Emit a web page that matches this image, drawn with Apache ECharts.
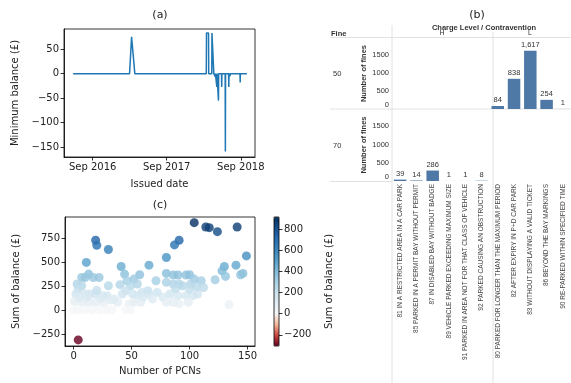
<!DOCTYPE html>
<html>
<head>
<meta charset="utf-8">
<script src="https://cdn.jsdelivr.net/npm/echarts@6/dist/echarts.min.js"></script>
<style>
  html, body { margin: 0; padding: 0; background: #fff; }
  #main { width: 571px; height: 383px; }
</style>
</head>
<body>
<div id="main"></div>
<script>
// (a) minimum balance over time
const balanceDates = [
    '2016-05-28', '2017-03-02', '2017-03-12', '2017-03-28',
    '2018-03-15', '2018-03-16', '2018-03-26', '2018-03-27',
    '2018-04-11', '2018-04-12', '2018-04-20', '2018-04-21',
    '2018-04-27', '2018-04-28', '2018-04-29',
    '2018-05-05', '2018-05-06', '2018-05-07',
    '2018-05-13', '2018-05-14', '2018-05-15',
    '2018-05-29', '2018-05-30', '2018-05-31',
    '2018-06-16', '2018-06-17', '2018-06-18',
    '2018-07-03', '2018-07-04', '2018-07-05',
    '2018-07-09', '2018-07-10', '2018-07-11',
    '2018-08-28', '2018-08-29', '2018-08-30',
    '2018-10-01'
];
const minBalance = [
    0, 0, 75, 0,
    0, 83, 83, 0,
    0, 83, 83, 0,
    0, -6, 0,
    0, -27, 0,
    0, -55, 0,
    0, -27, 0,
    0, -159, 0,
    0, -27, 0,
    0, -5, 0,
    0, -18, 0,
    0
];
const dateTicks = ['2016-09-01', '2017-09-01', '2018-09-01'];
const balanceTicks = [-150, -100, -50, 0, 50];

// (b) number of fines by contravention
const contraventions = [
    '81 IN A RESTRICTED AREA IN A CAR PARK',
    '85 PARKED IN A PERMIT BAY WITHOUT PERMIT',
    '87 IN DISABLED BAY WITHOUT BADGE',
    '89 VEHICLE PARKED EXCEEDING MAXIMUM SIZE',
    '91 PARKED IN AREA NOT FOR THAT CLASS OF VEHICLE',
    '92 PARKED CAUSING AN OBSTRUCTION',
    '80 PARKED FOR LONGER THAN THE MAXIMUM PERIOD',
    '82 AFTER EXPIRY IN P+D CAR PARK',
    '83 WITHOUT DISPLAYING A VALID TICKET',
    '86 BEYOND THE BAY MARKINGS',
    '90 RE-PARKED WITHIN SPECIFIED TIME'
];
const fines50 = [null, null, null, null, null, null, 84, 838, 1617, 254, 1];
const fines70 = [39, 14, 286, 1, 1, 8, null, null, null, null, null];

// (c) sum of balance vs number of PCNs
const pcnCounts = [
    4, 104, 114, 117, 124, 141, 19, 20, 30, 91, 87, 80, 149, 11, 41, 65, 140, 130, 128, 131,
    146, 144, 44, 57, 13, 10, 22, 17, 7, 80, 86, 90, 97, 100, 104, 110, 122, 30, 40, 46,
    52, 49, 55, 71, 80, 86, 91, 94, 101, 3, 7, 4, 2, 64, 59, 65, 72, 45, 42, 51,
    55, 29, 25, 19, 14, 10, 83, 90, 97, 103, 107, 68, 77, 52, 58, 48, 38, 35, 26, 19,
    13, 7, 1, 80, 86, 91, 99, 134, 0, 4, 10, 16, 22, 28, 33, 45, 49, 5, 24, 32,
    12, 20, 60, 88, 100, 106, 112
];
const balanceSums = [
    -305, 913, 868, 861, 820, 868, 730, 679, 634, 730, 682, 551, 568, 500, 458, 472, 472, 458, 413, 355,
    386, 372, 379, 372, 379, 344, 344, 344, 344, 386, 369, 369, 369, 372, 327, 310, 320, 258, 269, 310,
    327, 258, 276, 310, 293, 276, 276, 258, 276, 276, 258, 224, 172, 207, 189, 172, 189, 207, 172, 172,
    155, 155, 155, 172, 172, 172, 172, 155, 155, 155, 172, 121, 138, 86, 86, 69, 86, 121, 76, 86,
    86, 86, 96, 86, 86, 69, 86, 62, 7, 7, 7, 7, 7, 7, 7, 7, 7, 140, 130, 110,
    140, 210, 140, 230, 225, 250, 240
];
const pcnTicks = [0, 50, 100, 150];
const sumTicks = [-250, 0, 250, 500, 750];
const colorbarTicks = [-200, 0, 200, 400, 600, 800];

const chart = echarts.init(document.getElementById('main'), null, { renderer: 'canvas' });

const mplFont = 'DejaVu Sans';
const tabFont = 'Liberation Sans';
const months = ['Jan', 'Feb', 'Mar', 'Apr', 'May', 'Jun', 'Jul', 'Aug', 'Sep', 'Oct', 'Nov', 'Dec'];
const ts = (s) => new Date(s + 'T00:00:00').getTime();
const minus = (v) => String(v).replace('-', '\u2212');

const mplAxis = (extra) => Object.assign({
    axisLine: { show: true, onZero: false, lineStyle: { color: '#000', width: 0.8 } },
    axisTick: { show: true, length: 3.5, lineStyle: { color: '#000', width: 0.8 } },
    axisLabel: { fontFamily: mplFont, fontSize: 10, color: '#222', margin: 4 },
    splitLine: { show: false },
    nameTextStyle: { fontFamily: mplFont, fontSize: 10, color: '#222' },
    nameLocation: 'middle'
}, extra);

const tabYAxis = (gridIndex) => ({
    type: 'value', gridIndex: gridIndex, min: 0, max: 1970, interval: 500,
    axisLine: { show: false }, axisTick: { show: false }, splitLine: { show: false },
    axisLabel: {
        fontFamily: tabFont, fontSize: 7.5, color: '#333', margin: 3, showMaxLabel: false,
        formatter: (v) => (v === 0 ? '{z|0}' : String(v)),
        rich: { z: { fontFamily: tabFont, fontSize: 7.5, color: '#333', padding: [0, 0, 8, 0] } }
    },
    name: 'Number of fines', nameLocation: 'middle', nameGap: 22,
    nameTextStyle: { fontFamily: tabFont, fontSize: 7.5, fontWeight: 'bold', color: '#333' }
});

const gridLine = '#e2e2e2';
const txt = (text, x, y, size, opts) => Object.assign({
    type: 'text', x: x, y: y, silent: true,
    style: Object.assign({ text: text, font: size + 'px ' + mplFont, fill: '#222', align: 'center', verticalAlign: 'middle' }, opts || {})
});
const hLine = (x1, x2, y) => ({ type: 'line', silent: true, shape: { x1: x1, y1: y, x2: x2, y2: y }, style: { stroke: gridLine, lineWidth: 1 } });
const vLine = (x, y1, y2) => ({ type: 'line', silent: true, shape: { x1: x, y1: y1, x2: x, y2: y2 }, style: { stroke: gridLine, lineWidth: 1 } });

const option = {
    animation: false,
    backgroundColor: '#fff',
    grid: [
        { left: 64, top: 29, width: 191, height: 128, show: true, borderColor: '#000', borderWidth: 0.8 },
        { left: 392, top: 38, width: 185, height: 71 },
        { left: 392, top: 109, width: 185, height: 72 },
        { left: 65, top: 217, width: 190, height: 129, show: true, borderColor: '#000', borderWidth: 0.8 },
        { left: 274, top: 217, width: 5, height: 129, show: true, borderColor: '#000', borderWidth: 0.8, z: 10 }
    ],
    xAxis: [
        mplAxis({
            type: 'value', gridIndex: 0, min: ts('2016-04-13'), max: ts('2018-11-10'),
            name: 'Issued date', nameGap: 22,
            axisLabel: {
                fontFamily: mplFont, fontSize: 10, color: '#222', margin: 5,
                customValues: dateTicks.map(ts),
                formatter: (v) => { const d = new Date(v); return months[d.getMonth()] + ' ' + d.getFullYear(); }
            },
            axisTick: { show: true, length: 3.5, lineStyle: { color: '#000', width: 0.8 }, customValues: dateTicks.map(ts) }
        }),
        {
            type: 'category', gridIndex: 1, data: contraventions,
            axisLine: { show: false }, axisTick: { show: false }, axisLabel: { show: false }
        },
        {
            type: 'category', gridIndex: 2, data: contraventions,
            axisLine: { show: false }, axisTick: { show: false },
            axisLabel: { interval: 0, rotate: 90, fontFamily: tabFont, fontSize: 6.5, color: '#444', margin: 3 }
        },
        mplAxis({
            type: 'value', gridIndex: 3, min: -7.4, max: 156.4,
            name: 'Number of PCNs', nameGap: 20,
            axisLabel: { fontFamily: mplFont, fontSize: 10, color: '#222', margin: 5, customValues: pcnTicks },
            axisTick: { show: true, length: 3.5, lineStyle: { color: '#000', width: 0.8 }, customValues: pcnTicks }
        }),
        { type: 'value', gridIndex: 4, min: 0, max: 1, show: false }
    ],
    yAxis: [
        mplAxis({
            type: 'value', gridIndex: 0, min: -170, max: 91,
            name: 'Minimum balance (£)', nameGap: 44,
            axisLabel: { fontFamily: mplFont, fontSize: 10, color: '#222', margin: 5, customValues: balanceTicks, formatter: minus },
            axisTick: { show: true, length: 3.5, lineStyle: { color: '#000', width: 0.8 }, customValues: balanceTicks }
        }),
        tabYAxis(1),
        tabYAxis(2),
        mplAxis({
            type: 'value', gridIndex: 3, min: -368, max: 972,
            name: 'Sum of balance (£)', nameGap: 44,
            axisLabel: { fontFamily: mplFont, fontSize: 10, color: '#222', margin: 5, customValues: sumTicks, formatter: minus },
            axisTick: { show: true, length: 3.5, lineStyle: { color: '#000', width: 0.8 }, customValues: sumTicks }
        }),
        mplAxis({
            type: 'value', gridIndex: 4, min: -305, max: 913, position: 'right',
            name: 'Sum of balance (£)', nameGap: 45, nameRotate: 90,
            axisLine: { show: false, onZero: false },
            axisLabel: { fontFamily: mplFont, fontSize: 10, color: '#222', margin: 5, customValues: colorbarTicks, formatter: minus },
            axisTick: { show: true, length: 3.5, lineStyle: { color: '#000', width: 0.8 }, customValues: colorbarTicks }
        })
    ],
    visualMap: {
        type: 'continuous', seriesIndex: 3, dimension: 1,
        min: -305, max: 913, calculable: false, hoverLink: false,
        left: 274, top: 217, itemWidth: 5, itemHeight: 129, padding: 0,
        inRange: {
            color: ['#67001f', '#ca4842', '#f7b799', '#f7f7f7', '#e2edf3', '#cae1ee', '#a7d0e4',
                '#80bad8', '#559ec9', '#3884bb', '#256baf', '#154e8b', '#053061']
        }
    },
    series: [
        {
            type: 'line', xAxisIndex: 0, yAxisIndex: 0, symbol: 'none',
            lineStyle: { color: '#1f77b4', width: 1.5 },
            data: balanceDates.map((d, i) => [ts(d), minBalance[i]])
        },
        {
            type: 'bar', xAxisIndex: 1, yAxisIndex: 1, data: fines50, barWidth: 12.5,
            itemStyle: { color: '#4e79a7' },
            label: { show: true, position: 'top', distance: 2, fontFamily: tabFont, fontSize: 7.5, color: '#333',
                formatter: (p) => p.value.toLocaleString('en-US') }
        },
        {
            type: 'bar', xAxisIndex: 2, yAxisIndex: 2, data: fines70, barWidth: 12.5,
            itemStyle: { color: '#4e79a7' },
            label: { show: true, position: 'top', distance: 2, fontFamily: tabFont, fontSize: 7.5, color: '#333',
                formatter: (p) => p.value.toLocaleString('en-US') }
        },
        {
            type: 'scatter', xAxisIndex: 3, yAxisIndex: 3, symbolSize: 9,
            data: pcnCounts.map((x, i) => [x, balanceSums[i]])
        }
    ],
    graphic: [
        txt('(a)', 160, 15, 11),
        txt('(c)', 160, 205, 11),
        txt('(b)', 477, 15, 11),
        txt('Charge Level / Contravention', 484, 28, 7.5, { font: 'bold 7.5px ' + tabFont, fill: '#333' }),
        txt('H', 442, 33.5, 7, { font: '7px ' + tabFont, fill: '#333' }),
        txt('L', 530, 33.5, 7, { font: '7px ' + tabFont, fill: '#333' }),
        txt('Fine', 331, 34, 7.5, { font: 'bold 7.5px ' + tabFont, fill: '#333', align: 'left' }),
        txt('50', 333, 74, 7.5, { font: '7.5px ' + tabFont, fill: '#333', align: 'left' }),
        txt('70', 333, 146, 7.5, { font: '7.5px ' + tabFont, fill: '#333', align: 'left' }),
        hLine(330, 571, 37.5),
        hLine(330, 571, 109),
        hLine(330, 392, 181.5),
        vLine(392, 25, 383),
        vLine(493, 32, 383)
    ]
};

chart.setOption(option);
</script>
</body>
</html>
